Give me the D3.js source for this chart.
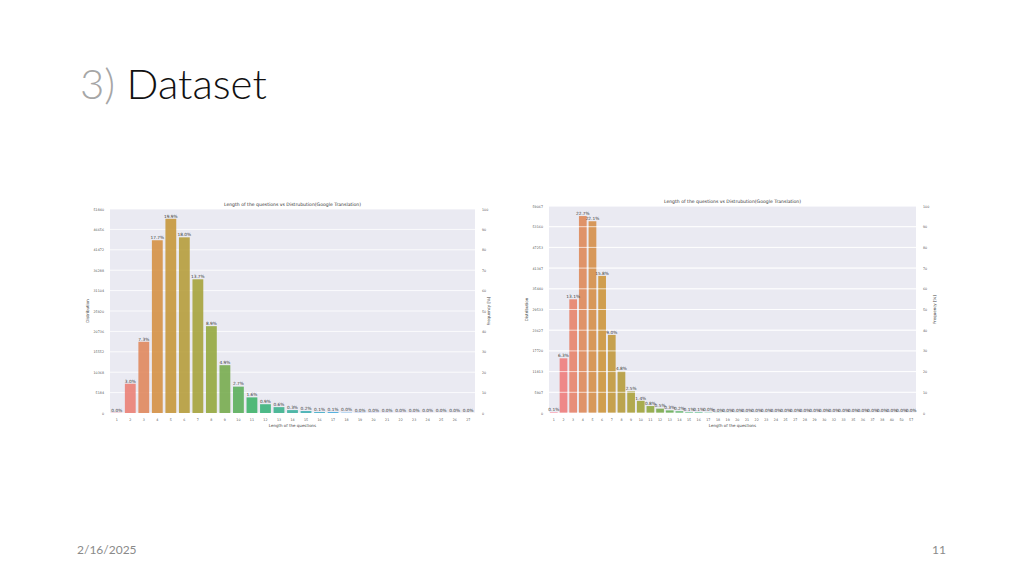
<!DOCTYPE html>
<html>
<head>
<meta charset="utf-8">
<script src="https://cdn.jsdelivr.net/npm/d3@7"></script>
<style>
  body { margin: 0; background: #fff; }
  svg { display: block; }
</style>
</head>
<body>
<div id="slide"></div>
<script>
// left chart (27 lengths)
const leftCategories = ["1","2","3","4","5","6","7","8","9","10","11","12","13","14","15","16","17","18","19","20","21","22","23","24","25","26","27"];
const leftCounts = [60, 7440, 18100, 43900, 49350, 44640, 33980, 22070, 12150, 6700, 3970, 2230, 1490, 740, 500, 250, 250, 90, 60, 40, 30, 20, 15, 10, 8, 5, 4];
const leftPercents = ["0.0","3.0","7.3","17.7","19.9","18.0","13.7","8.9","4.9","2.7","1.6","0.9","0.6","0.3","0.2","0.1","0.1","0.0","0.0","0.0","0.0","0.0","0.0","0.0","0.0","0.0","0.0"];
const leftYTicks = [0, 5184, 10368, 15552, 20736, 25920, 31104, 36288, 41472, 46656, 51840];

// right chart (38 lengths)
const rightCategories = ["1","2","3","4","5","6","7","8","9","10","11","12","13","14","15","16","17","18","19","20","21","22","23","24","25","27","28","29","30","32","33","35","36","37","38","40","50","57"];
const rightCounts = [250, 15600, 32440, 56200, 54720, 39120, 22280, 11880, 6190, 3470, 1980, 1240, 740, 500, 250, 250, 110, 70, 50, 40, 30, 25, 20, 15, 12, 10, 8, 6, 5, 4, 3, 3, 2, 2, 2, 1, 1, 1];
const rightPercents = ["0.1","6.3","13.1","22.7","22.1","15.8","9.0","4.8","2.5","1.4","0.8","0.5","0.3","0.2","0.1","0.1","0.0","0.0","0.0","0.0","0.0","0.0","0.0","0.0","0.0","0.0","0.0","0.0","0.0","0.0","0.0","0.0","0.0","0.0","0.0","0.0","0.0","0.0"];
const rightYTicks = [0, 5907, 11813, 17720, 23627, 29533, 35440, 41347, 47253, 53160, 59067];

const freqTicks = [0, 10, 20, 30, 40, 50, 60, 70, 80, 90, 100];

const chartTitle = "Length of the questions vs Distrubution(Google Translation)";
const husl8 = ["#f77189", "#ce8f31", "#96a331", "#32b166", "#36ada4", "#3ba3ec", "#bb83f4", "#f564d4"];

const svg = d3.select("#slide").append("svg")
  .attr("width", 1024)
  .attr("height", 576);

svg.append("rect").attr("width", 1024).attr("height", 576).attr("fill", "#fff");

// slide heading
let heading = svg.append("text")
  .attr("x", 80)
  .attr("y", 99)
  .style("font-family", "Lato, 'Open Sans', sans-serif")
  .style("font-weight", "300")
  .style("font-size", "42px");
heading.append("tspan").attr("fill", "#a6a6a6").text("3) ");
heading.append("tspan").attr("fill", "#111").text("Dataset");

svg.append("text")
  .attr("x", 77).attr("y", 554)
  .style("font-family", "Lato, sans-serif").style("font-size", "12px")
  .attr("fill", "#8a8a8a")
  .text("2/16/2025");

svg.append("text")
  .attr("x", 946).attr("y", 554)
  .attr("text-anchor", "end")
  .style("font-family", "Lato, sans-serif").style("font-size", "12px")
  .attr("fill", "#8a8a8a")
  .text("11");

class LengthChart {
  constructor(cfg) {
    this.cfg = cfg;
    this.font = "'DejaVu Sans', sans-serif";
  }
  draw() {
    const c = this.cfg;
    const g = svg.append("g");
    const n = c.categories.length;
    const palette = d3.piecewise(d3.interpolateRgb, husl8.concat([husl8[0]]));

    const x = d3.scaleBand()
      .domain(c.categories)
      .range([c.left, c.right])
      .paddingInner(0.2)
      .paddingOuter(0.1);
    const y = d3.scaleLinear()
      .domain([0, c.yTicks[c.yTicks.length - 1]])
      .range([c.bottom, c.top]);
    const yFreq = d3.scaleLinear()
      .domain([0, 100])
      .range([c.bottom, c.top]);

    g.append("rect")
      .attr("x", c.left).attr("y", c.top)
      .attr("width", c.right - c.left).attr("height", c.bottom - c.top)
      .attr("fill", "#eaeaf2");

    const drawGrid = (opacity) => {
      g.append("g").selectAll("line")
        .data(c.yTicks)
        .enter()
        .append("line")
        .attr("x1", c.left).attr("x2", c.right)
        .attr("y1", d => y(d)).attr("y2", d => y(d))
        .style("stroke", "#fff")
        .style("stroke-opacity", opacity)
        .style("stroke-width", "0.8px");
    };
    drawGrid(1);

    g.append("g").selectAll("rect")
      .data(c.counts)
      .enter()
      .append("rect")
      .attr("x", (d, i) => x(c.categories[i]))
      .attr("width", x.bandwidth())
      .attr("y", d => y(d))
      .attr("height", d => c.bottom - y(d))
      .style("fill", (d, i) => palette(i / n))
      .style("fill-opacity", 0.85);

    if (c.gridOnTop) drawGrid(0.85);

    g.append("g").selectAll("text")
      .data(c.counts)
      .enter()
      .append("text")
      .attr("x", (d, i) => x(c.categories[i]) + x.bandwidth() / 2)
      .attr("y", d => y(d) - 1.2)
      .attr("text-anchor", "middle")
      .style("font-family", this.font)
      .style("font-size", "4.3px")
      .attr("fill", "#3a3a3a")
      .text((d, i) => c.percents[i] + "%");

    // axes without ticks or lines (darkgrid look)
    const axisLeft = g.append("g")
      .attr("transform", "translate(" + (c.left - 3) + ",0)")
      .call(d3.axisLeft(y).tickValues(c.yTicks).tickSize(0).tickFormat(d => d));
    const axisRight = g.append("g")
      .attr("transform", "translate(" + (c.right + 4) + ",0)")
      .call(d3.axisRight(yFreq).tickValues(freqTicks).tickSize(0));
    const axisBottom = g.append("g")
      .attr("transform", "translate(0," + (c.bottom + 2) + ")")
      .call(d3.axisBottom(x).tickSize(0));

    [axisLeft, axisRight, axisBottom].forEach(a => {
      a.select(".domain").remove();
      a.selectAll("text")
        .style("font-family", this.font)
        .style("font-size", "3.3px")
        .attr("fill", "#555");
    });
    axisBottom.selectAll("text").attr("dy", "0.9em");

    g.append("text")
      .attr("x", (c.left + c.right) / 2)
      .attr("y", c.top - 3)
      .attr("text-anchor", "middle")
      .style("font-family", this.font)
      .style("font-size", "4.6px")
      .attr("fill", "#333")
      .text(chartTitle);

    g.append("text")
      .attr("x", (c.left + c.right) / 2)
      .attr("y", c.bottom + 14)
      .attr("text-anchor", "middle")
      .style("font-family", this.font)
      .style("font-size", "4px")
      .attr("fill", "#444")
      .text("Length of the questions");

    const midY = (c.top + c.bottom) / 2;
    g.append("text")
      .attr("transform", "translate(" + (c.left - 21) + "," + midY + ") rotate(-90)")
      .attr("text-anchor", "middle")
      .style("font-family", this.font)
      .style("font-size", "4px")
      .attr("fill", "#444")
      .text("Distribution");

    g.append("text")
      .attr("transform", "translate(" + (c.right + c.freqLabelGap) + "," + midY + ") rotate(-90)")
      .attr("text-anchor", "middle")
      .style("font-family", this.font)
      .style("font-size", "4px")
      .attr("fill", "#444")
      .text("Frequency [%]");
  }
}

new LengthChart({
  categories: leftCategories, counts: leftCounts, percents: leftPercents, yTicks: leftYTicks,
  left: 110, right: 475, top: 209, bottom: 413, freqLabelGap: 15, gridOnTop: false
}).draw();

new LengthChart({
  categories: rightCategories, counts: rightCounts, percents: rightPercents, yTicks: rightYTicks,
  left: 549, right: 916, top: 206, bottom: 413, freqLabelGap: 20, gridOnTop: true
}).draw();
</script>
</body>
</html>
